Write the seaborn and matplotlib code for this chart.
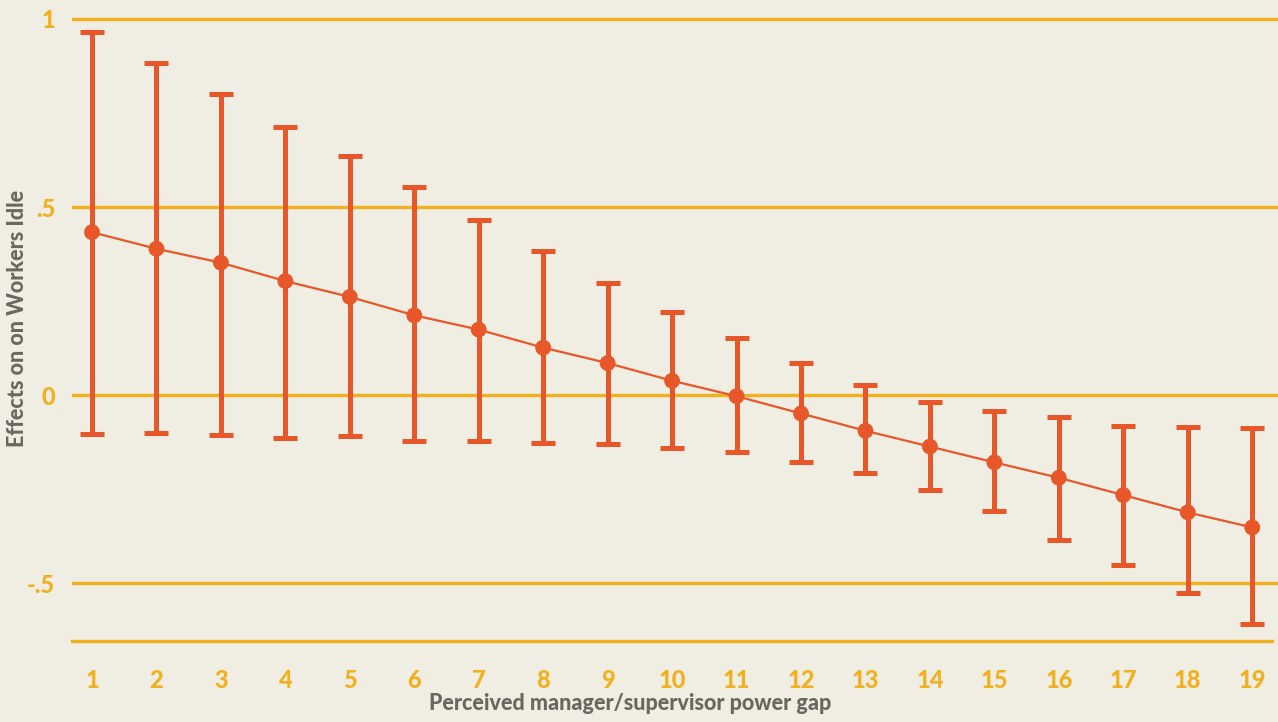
import matplotlib
matplotlib.use("Agg")
import matplotlib.pyplot as plt
import seaborn as sns
import pandas as pd

# ---- data ----
power_gap = list(range(1, 20))
effect = [0.433, 0.389, 0.352, 0.303, 0.261, 0.212, 0.174, 0.126, 0.085, 0.038,
          -0.003, -0.049, -0.095, -0.137, -0.179, -0.220, -0.266, -0.312, -0.352]
ci_upper = [0.966, 0.883, 0.800, 0.713, 0.636, 0.553, 0.465, 0.383, 0.297, 0.222,
            0.151, 0.084, 0.027, -0.018, -0.043, -0.059, -0.081, -0.086, -0.087]
ci_lower = [-0.104, -0.101, -0.107, -0.115, -0.110, -0.121, -0.122, -0.127, -0.129, -0.141,
            -0.152, -0.179, -0.207, -0.253, -0.308, -0.386, -0.452, -0.527, -0.610]
y_ticks = [-0.5, 0, 0.5, 1]
y_tick_labels = ["-.5", "0", ".5", "1"]
x_label = "Perceived manager/supervisor power gap"
y_label = "Effects on on Workers Idle"

df = pd.DataFrame({"gap": power_gap, "effect": effect,
                   "lo": ci_lower, "hi": ci_upper})

BG = "#F0EDE2"
RED = "#E8572A"
GOLD = "#F2B01E"
GRAY = "#6B675E"

sns.set_theme(style="white")
plt.rcParams["font.family"] = ["Lato", "DejaVu Sans"]

fig = plt.figure(figsize=(12.78, 7.22), dpi=100, facecolor=BG)
ax = fig.add_axes([72 / 1278, 81 / 722, 1206 / 1278, 626 / 722])
ax.set_facecolor(BG)

# grid lines
for yv in y_ticks:
    ax.axhline(yv, color=GOLD, lw=2.4, zorder=1)

# error bars
yerr = [df["effect"] - df["lo"], df["hi"] - df["effect"]]
ax.errorbar(df["gap"], df["effect"], yerr=yerr, fmt="none", ecolor=RED,
            elinewidth=3.6, capsize=8.5, capthick=3.6, zorder=3)

# connecting line + points
sns.lineplot(data=df, x="gap", y="effect", ax=ax, color=RED, lw=1.6,
             zorder=4, legend=False)
sns.scatterplot(data=df, x="gap", y="effect", ax=ax, color=RED, s=130,
                edgecolor="none", zorder=5, legend=False)

ax.set_xlim(0.69, 19.40)
ax.set_ylim(-0.654, 1.0106)

ax.set_xticks(power_gap)
ax.set_xticklabels([str(v) for v in power_gap])
ax.set_yticks(y_ticks)
ax.set_yticklabels(y_tick_labels)

ax.tick_params(axis="x", direction="out", length=9, width=1.8, color=GOLD,
               labelcolor=GOLD, labelsize=17, pad=11)
ax.tick_params(axis="y", length=0, labelcolor=GOLD, labelsize=17, pad=12)
for lab in ax.get_xticklabels() + ax.get_yticklabels():
    lab.set_fontweight(900)

for s in ["top", "right", "left"]:
    ax.spines[s].set_visible(False)
ax.spines["bottom"].set_color(GOLD)
ax.spines["bottom"].set_linewidth(2.4)
ax.spines["bottom"].set_bounds(0.69, 19.31)

ax.set_xlabel("")
ax.set_ylabel("")
fig.text(630 / 1278, 1 - 703 / 722, x_label, ha="center", va="center",
         color=GRAY, fontsize=15.5, fontweight=900)
fig.text(18 / 1278, 1 - 318 / 722, y_label, ha="center", va="center",
         rotation=90, color=GRAY, fontsize=15.5, fontweight=900)

fig.savefig("out.png", dpi=100, facecolor=BG)
